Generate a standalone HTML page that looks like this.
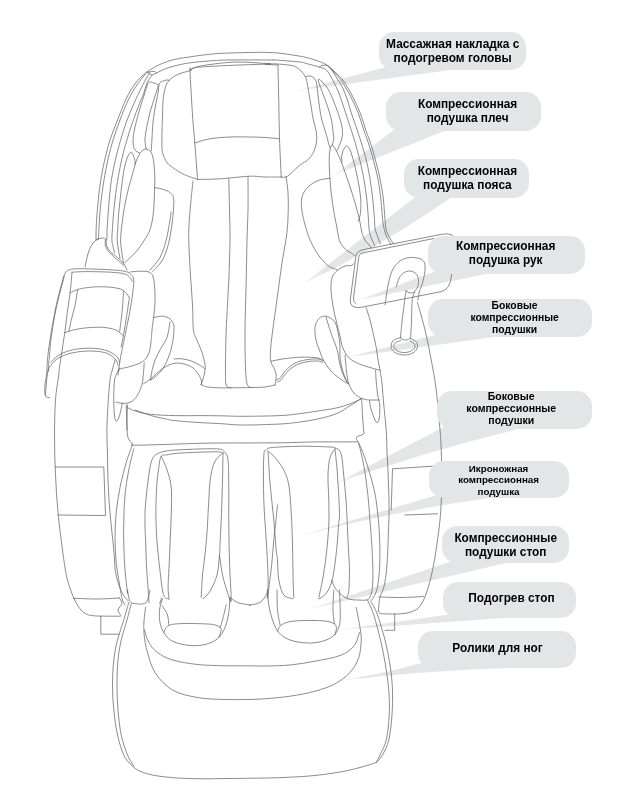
<!DOCTYPE html>
<html><head><meta charset="utf-8">
<style>
html,body{margin:0;padding:0;background:#fff;}
body{width:640px;height:804px;position:relative;overflow:hidden;font-family:"Liberation Sans",sans-serif;}
svg{position:absolute;left:0;top:0;}
.lb{position:absolute;background:#e3e6e7;border-radius:15px;}
.t{filter:grayscale(1);line-height:16px;position:absolute;font-weight:bold;color:#000;text-align:center;white-space:nowrap;transform:translateX(-50%);}

</style></head><body>
<!--TAILS-->
<svg id="tails" width="640" height="804" viewBox="0 0 640 804">
<defs>
<linearGradient id="g0" gradientUnits="userSpaceOnUse" x1="296.0" y1="91.0" x2="418.2" y2="68.7"><stop offset="0" stop-color="#e3e6e7" stop-opacity="0.45"/><stop offset="0.18" stop-color="#e3e6e7" stop-opacity="1"/></linearGradient>
<linearGradient id="g1" gradientUnits="userSpaceOnUse" x1="334.7" y1="174.7" x2="420.3" y2="129.7"><stop offset="0" stop-color="#e3e6e7" stop-opacity="0.45"/><stop offset="0.18" stop-color="#e3e6e7" stop-opacity="1"/></linearGradient>
<linearGradient id="g2" gradientUnits="userSpaceOnUse" x1="302.8" y1="284.0" x2="431.9" y2="198.2"><stop offset="0" stop-color="#e3e6e7" stop-opacity="0.45"/><stop offset="0.18" stop-color="#e3e6e7" stop-opacity="1"/></linearGradient>
<linearGradient id="g3" gradientUnits="userSpaceOnUse" x1="358.1" y1="300.3" x2="460.8" y2="272.9"><stop offset="0" stop-color="#e3e6e7" stop-opacity="0.45"/><stop offset="0.18" stop-color="#e3e6e7" stop-opacity="1"/></linearGradient>
<linearGradient id="g4" gradientUnits="userSpaceOnUse" x1="346.2" y1="357.5" x2="465.5" y2="335.9"><stop offset="0" stop-color="#e3e6e7" stop-opacity="0.45"/><stop offset="0.18" stop-color="#e3e6e7" stop-opacity="1"/></linearGradient>
<linearGradient id="g5" gradientUnits="userSpaceOnUse" x1="335.6" y1="483.4" x2="481.7" y2="427.9"><stop offset="0" stop-color="#e3e6e7" stop-opacity="0.45"/><stop offset="0.18" stop-color="#e3e6e7" stop-opacity="1"/></linearGradient>
<linearGradient id="g6" gradientUnits="userSpaceOnUse" x1="296.0" y1="537.0" x2="462.9" y2="496.3"><stop offset="0" stop-color="#e3e6e7" stop-opacity="0.45"/><stop offset="0.18" stop-color="#e3e6e7" stop-opacity="1"/></linearGradient>
<linearGradient id="g7" gradientUnits="userSpaceOnUse" x1="308.0" y1="609.4" x2="479.5" y2="561.9"><stop offset="0" stop-color="#e3e6e7" stop-opacity="0.45"/><stop offset="0.18" stop-color="#e3e6e7" stop-opacity="1"/></linearGradient>
<linearGradient id="g8" gradientUnits="userSpaceOnUse" x1="338.0" y1="630.0" x2="472.8" y2="616.6"><stop offset="0" stop-color="#e3e6e7" stop-opacity="0.45"/><stop offset="0.18" stop-color="#e3e6e7" stop-opacity="1"/></linearGradient>
<linearGradient id="g9" gradientUnits="userSpaceOnUse" x1="336.0" y1="681.0" x2="468.0" y2="665.4"><stop offset="0" stop-color="#e3e6e7" stop-opacity="0.45"/><stop offset="0.18" stop-color="#e3e6e7" stop-opacity="1"/></linearGradient>
</defs>
<path fill="url(#g0)" d="M296.0,91.0 Q340.2,79.3 384.5,67.6 L396.1,64.5 L452.0,64.8 L452.0,69.8 Q374.0,80.4 296.0,91.0 Z"/>
<path fill="url(#g1)" d="M334.7,174.7 Q365.1,151.7 395.6,128.8 L405.2,121.5 L445.0,125.7 L445.0,130.7 Q389.9,152.7 334.7,174.7 Z"/>
<path fill="url(#g2)" d="M302.8,284.0 Q358.4,241.2 413.9,198.3 L423.4,191.0 L450.0,193.2 L450.0,198.2 Q376.4,249.1 302.8,284.0 Z"/>
<path fill="url(#g3)" d="M358.1,300.3 Q395.4,286.2 432.6,272.2 L443.8,268.0 L489.0,268.5 L489.0,273.5 Q423.6,286.9 358.1,300.3 Z"/>
<path fill="url(#g4)" d="M346.2,357.5 Q390.6,346.2 435.0,335.0 L446.6,332.1 L496.0,331.8 L496.0,336.8 Q421.1,347.1 346.2,357.5 Z"/>
<path fill="url(#g5)" d="M335.6,483.4 Q389.5,455.3 443.4,427.2 L454.0,421.7 L520.0,423.5 L520.0,428.5 Q427.8,450.9 335.6,483.4 Z"/>
<path fill="url(#g6)" d="M296.0,537.0 Q367.4,515.7 438.8,494.4 L450.2,491.0 L487.0,493.2 L487.0,498.2 Q391.5,511.6 296.0,537.0 Z"/>
<path fill="url(#g7)" d="M308.0,609.4 Q380.0,585.2 452.0,561.0 L463.4,557.2 L507.0,557.8 L507.0,562.8 Q407.5,586.1 308.0,609.4 Z"/>
<path fill="url(#g8)" d="M338.0,630.0 Q391.8,622.5 445.6,615.0 L457.5,613.3 L500.0,613.3 L500.0,618.3 Q419.0,624.1 338.0,630.0 Z"/>
<path fill="url(#g9)" d="M336.0,681.0 Q378.5,675.0 421.0,663.0 L432.7,660.5 L515.0,662.8 L515.0,667.8 Q425.5,670.4 336.0,681.0 Z"/>
</svg>
<!--CHAIR-->
<svg id="chair" width="640" height="804" viewBox="0 0 640 804" fill="none" stroke="#666" stroke-width="0.75" stroke-linecap="round" stroke-linejoin="round">
<path d="M96.0,240.0 C96.0,237.9 96.0,233.3 96.2,227.5 C96.5,221.7 97.0,212.7 97.8,205.0 C98.5,197.3 99.4,189.0 100.6,181.2 C101.8,173.5 103.4,165.6 105.0,158.8 C106.6,151.9 107.9,146.5 110.0,140.0 C112.1,133.5 114.8,126.9 117.5,120.0 C120.2,113.1 123.3,104.8 126.2,98.8 C129.2,92.7 131.7,88.1 135.0,83.8 C138.3,79.4 142.1,75.7 146.2,72.5 C150.4,69.3 155.2,66.6 160.0,64.4 C164.8,62.2 170.0,60.6 175.0,59.4 C180.0,58.1 184.4,57.7 190.0,56.9 C195.6,56.0 202.5,55.0 208.8,54.4 C215.0,53.8 217.3,53.4 227.5,53.1 C237.7,52.8 257.9,52.0 270.0,52.5 C282.1,53.0 292.5,55.0 300.0,56.2 C307.5,57.5 310.7,58.6 315.0,60.0 C319.3,61.4 323.2,63.0 326.0,64.5 C328.8,66.0 330.0,67.2 332.0,69.0 C334.0,70.8 336.0,73.0 338.0,75.0 C340.0,77.0 341.3,77.7 343.8,81.2 C346.2,84.8 349.8,91.0 352.5,96.2 C355.2,101.5 357.7,106.7 360.0,112.5 C362.3,118.3 364.5,126.2 366.2,131.2 C368.0,136.3 369.1,138.8 370.5,143.0 C371.9,147.2 373.0,151.1 374.5,156.6 C376.0,162.1 378.1,169.7 379.5,176.2 C380.9,182.8 382.1,189.4 383.0,196.0 C383.9,202.6 384.2,210.1 384.7,215.6 C385.2,221.1 385.3,225.6 386.0,229.0 C386.7,232.4 387.5,233.5 388.8,236.0 C390.0,238.5 392.6,242.5 393.4,243.8"/>
<path d="M98.5,238.8 C98.6,236.9 98.6,233.1 99.0,227.5 C99.4,221.9 99.8,212.7 100.6,205.0 C101.4,197.3 102.5,189.0 103.8,181.2 C105.0,173.5 106.6,165.6 108.1,158.8 C109.7,151.9 111.1,146.5 113.1,140.0 C115.1,133.5 117.4,126.9 120.0,120.0 C122.6,113.1 125.9,104.6 128.8,98.8 C131.6,92.9 134.0,89.3 136.9,85.0 C139.8,80.7 144.7,75.1 146.2,73.1"/>
<path d="M96.0,240.0 C96.2,239.8 96.6,239.2 97.0,239.0 C97.4,238.8 98.2,238.8 98.5,238.8"/>
<path d="M106.9,240.0 C106.9,237.9 106.9,233.3 107.2,227.5 C107.6,221.7 108.1,212.7 108.8,205.0 C109.4,197.3 110.1,189.0 111.2,181.2 C112.4,173.5 114.1,165.6 115.6,158.8 C117.2,151.9 118.9,146.0 120.6,140.0 C122.4,134.0 124.1,128.5 126.2,122.5 C128.4,116.5 131.2,109.5 133.8,103.8 C136.2,98.0 139.0,92.7 141.2,88.1 C143.5,83.5 146.1,78.8 147.5,76.2 C148.9,73.7 149.4,73.3 149.8,72.8"/>
<path d="M114.5,252.5 C114.2,251.4 113.4,248.1 113.0,246.0 C112.6,243.9 112.0,243.1 111.9,240.0 C111.8,236.9 112.1,233.3 112.5,227.5 C112.9,221.7 113.5,212.7 114.4,205.0 C115.2,197.3 116.2,189.0 117.5,181.2 C118.8,173.5 120.3,165.6 121.9,158.8 C123.4,151.9 125.1,146.0 126.9,140.0 C128.6,134.0 130.4,128.5 132.5,122.5 C134.6,116.5 137.5,108.5 139.4,103.8 C141.2,99.0 142.3,97.0 143.5,93.8 C144.7,90.5 145.5,86.9 146.5,84.4 C147.5,81.8 148.6,80.0 149.5,78.5 C150.4,77.0 151.6,75.8 152.0,75.2"/>
<path d="M147.2,72.2 L154.8,71.2 L156.5,73.0 L152.0,75.2 L147.2,72.2"/>
<path d="M156.5,73.0 C158.1,72.2 162.8,69.8 166.2,68.5 C169.8,67.2 173.5,66.2 177.5,65.2 C181.5,64.3 184.8,63.5 190.0,62.8 C195.2,62.0 202.5,61.5 208.8,61.0 C215.0,60.5 217.3,60.2 227.5,60.0 C237.7,59.8 262.1,60.0 270.0,60.0 C277.9,60.0 270.0,59.7 275.0,60.0 C280.0,60.3 294.8,61.4 300.0,62.0 C305.2,62.6 303.3,62.8 306.0,63.5 C308.7,64.2 313.7,65.4 316.0,66.0 C318.3,66.6 319.3,67.0 320.0,67.2"/>
<path d="M319.5,67.0 C319.8,66.8 320.4,65.8 321.5,65.5 C322.6,65.2 324.8,65.0 326.0,65.2 C327.2,65.5 327.9,66.1 329.0,67.0 C330.1,67.9 331.9,69.9 332.5,70.5"/>
<path d="M320.0,67.2 C320.8,67.5 323.7,68.2 325.0,69.0 C326.3,69.8 327.0,70.7 328.0,72.0 C329.0,73.3 329.6,74.4 331.0,77.0 C332.4,79.6 334.8,83.8 336.5,87.5 C338.2,91.2 339.5,94.8 341.0,99.0 C342.5,103.2 343.4,106.2 345.5,112.5 C347.6,118.8 351.1,129.6 353.4,136.9 C355.6,144.2 357.4,150.0 359.0,156.6 C360.6,163.2 362.1,169.7 363.3,176.2 C364.5,182.8 365.6,189.4 366.4,196.0 C367.2,202.6 367.7,209.9 368.2,215.6 C368.7,221.3 368.7,226.4 369.2,230.0 C369.7,233.6 370.1,234.4 371.0,237.0 C371.9,239.6 374.1,244.2 374.7,245.6"/>
<path d="M329.0,67.0 C329.7,67.8 331.5,69.8 333.0,72.0 C334.5,74.2 336.4,77.4 338.0,80.0 C339.6,82.6 341.0,84.3 342.5,87.5 C344.0,90.7 345.5,94.8 347.0,99.0 C348.5,103.2 349.2,106.4 351.2,112.5 C353.2,118.6 356.6,128.2 359.0,135.5 C361.4,142.8 363.6,149.8 365.4,156.6 C367.2,163.4 368.4,169.7 369.6,176.2 C370.8,182.8 371.6,189.4 372.4,196.0 C373.2,202.6 373.8,210.3 374.2,215.6 C374.7,220.9 374.5,224.6 375.0,228.0 C375.5,231.4 376.6,233.6 377.5,236.2 C378.4,238.9 379.8,242.5 380.3,243.8"/>
<path d="M332.5,70.5 C333.2,71.3 335.4,73.7 337.0,75.5 C338.6,77.3 339.8,78.0 342.0,81.5 C344.2,85.0 347.8,91.1 350.5,96.2 C353.2,101.4 355.7,106.7 358.0,112.5 C360.3,118.3 362.5,126.2 364.2,131.2 C365.9,136.3 367.0,138.8 368.4,143.0 C369.8,147.2 370.9,151.1 372.4,156.6 C373.9,162.1 376.0,169.7 377.4,176.2 C378.8,182.8 379.7,189.4 380.5,196.0 C381.3,202.6 381.8,210.6 382.3,215.6 C382.8,220.6 382.9,222.8 383.5,226.0 C384.1,229.2 384.8,231.9 386.0,235.0 C387.2,238.1 390.2,242.9 391.0,244.5"/>
<path d="M139.8,153.2 C139.1,152.8 136.7,151.8 135.6,150.6 C134.6,149.5 133.9,148.0 133.5,146.2 C133.1,144.5 133.0,142.7 133.1,140.0 C133.3,137.3 133.4,134.6 134.4,130.0 C135.3,125.4 137.2,118.1 138.8,112.5 C140.3,106.9 142.2,101.1 143.8,96.2 C145.3,91.4 146.9,85.5 148.1,83.1 C149.4,80.8 149.9,82.1 151.2,82.2 C152.6,82.4 155.1,83.2 156.2,83.8 C157.4,84.3 158.3,83.5 158.1,85.6 C157.9,87.7 156.4,91.8 155.0,96.2 C153.6,100.7 151.5,106.9 150.0,112.5 C148.5,118.1 147.1,125.4 146.2,130.0 C145.4,134.6 145.0,136.8 145.0,140.0 C145.0,143.2 145.8,147.5 146.0,149.0"/>
<path d="M151.2,151.0 C151.4,149.2 151.6,145.0 151.9,140.0 C152.2,135.0 152.5,127.1 153.1,121.2 C153.8,115.4 154.8,109.8 155.6,105.0 C156.5,100.2 157.5,96.0 158.1,92.5 C158.8,89.0 158.6,85.6 159.4,83.8 C160.1,81.9 161.2,81.9 162.5,81.2 C163.8,80.6 165.8,80.2 166.9,80.0 C168.0,79.8 168.6,80.2 169.0,80.2"/>
<path d="M197.5,179.5 C195.0,178.5 187.1,176.1 182.5,173.8 C177.9,171.4 172.7,167.6 170.0,165.5 C167.3,163.4 167.5,163.4 166.2,161.2 C165.0,159.1 163.2,156.0 162.5,152.5 C161.8,149.0 161.9,146.2 161.9,140.0 C161.9,133.8 162.3,121.7 162.5,115.0 C162.7,108.3 162.7,104.4 163.1,100.0 C163.5,95.6 164.3,91.7 165.0,88.8 C165.7,85.8 166.2,84.4 167.5,82.5 C168.8,80.6 170.4,79.0 172.5,77.5 C174.6,76.0 177.1,74.6 180.0,73.5 C182.9,72.4 187.7,71.5 190.0,70.6 C192.3,69.7 191.7,69.0 193.8,68.1 C195.8,67.3 196.9,66.6 202.5,65.6 C208.1,64.7 220.2,63.1 227.5,62.5 C234.8,61.9 239.2,62.0 246.2,62.2 C253.3,62.5 265.2,63.5 270.0,63.8 C274.8,64.0 271.7,63.5 275.0,63.8 C278.3,64.0 286.5,64.7 290.0,65.2 C293.5,65.8 294.2,66.0 296.0,67.0 C297.8,68.0 299.4,69.3 301.0,71.0 C302.6,72.7 304.4,74.7 305.5,77.0 C306.6,79.3 306.8,81.7 307.5,85.0 C308.2,88.3 308.8,93.0 309.5,97.0 C310.2,101.0 310.9,105.2 311.5,109.0 C312.1,112.8 312.6,116.3 313.4,120.0 C314.2,123.7 315.7,127.8 316.2,131.2 C316.7,134.8 317.0,137.7 316.6,141.0 C316.2,144.3 315.4,147.9 314.0,151.0 C312.6,154.1 310.7,157.1 308.4,159.4 C306.1,161.7 303.5,162.2 300.0,165.0 C296.5,167.8 290.6,174.2 287.5,176.2 C284.4,178.2 282.3,176.9 281.2,177.0"/>
<path d="M197.5,179.5 C197.1,173.8 195.8,155.8 195.0,145.0 C194.2,134.2 193.3,127.3 192.5,115.0 C191.7,102.7 190.3,78.6 190.0,71.2 C189.7,63.9 190.5,70.7 190.6,70.6"/>
<path d="M190.6,70.6 C191.1,70.1 190.7,68.4 193.8,67.8 C196.8,67.1 201.0,67.0 208.8,66.5 C216.5,66.0 229.8,65.4 240.0,65.0 C250.2,64.6 265.8,64.1 270.0,64.0 C274.2,63.9 263.7,64.1 265.0,64.2 C266.3,64.4 275.8,64.9 278.0,65.0"/>
<path d="M278.0,65.0 C278.1,71.2 278.5,90.2 278.8,102.5 C279.0,114.8 279.1,126.3 279.5,138.8 C279.9,151.2 281.0,170.6 281.2,177.0"/>
<path d="M194.5,143.0 C197.1,142.3 204.1,139.8 210.0,138.8 C215.9,137.8 223.3,137.3 230.0,137.0 C236.7,136.7 244.2,136.9 250.0,137.0 C255.8,137.1 260.1,137.2 265.0,137.5 C269.9,137.8 277.1,138.5 279.5,138.8"/>
<path d="M197.5,179.5 C201.2,179.4 211.2,179.3 220.0,178.8 C228.8,178.2 242.5,176.5 250.0,176.2 C257.5,176.0 259.8,176.9 265.0,177.0 C270.2,177.1 278.5,177.0 281.2,177.0"/>
<path d="M135.2,164.4 C135.2,163.6 135.1,161.6 134.8,160.0 C134.4,158.4 133.8,156.3 133.1,155.0 C132.4,153.7 131.7,151.6 130.6,152.2 C129.6,152.9 128.0,155.6 126.9,158.8 C125.7,161.9 124.7,166.0 123.8,171.2 C122.8,176.5 122.0,183.5 121.2,190.0 C120.5,196.5 119.6,203.8 119.0,210.0 C118.4,216.2 118.0,222.5 117.8,227.5 C117.5,232.5 117.1,236.2 117.2,240.0 C117.4,243.8 118.0,246.9 118.5,250.0 C119.0,253.1 119.8,257.1 120.0,258.5"/>
<path d="M123.5,263.0 C123.2,260.8 122.0,253.8 121.5,250.0 C121.0,246.2 120.6,244.2 120.6,240.0 C120.7,235.8 121.2,230.4 121.9,225.0 C122.5,219.6 123.3,213.3 124.4,207.5 C125.4,201.7 126.9,195.2 128.1,190.0 C129.4,184.8 130.5,181.0 131.9,176.2 C133.2,171.5 134.8,165.2 136.2,161.2 C137.7,157.3 139.1,154.5 140.6,152.5 C142.2,150.5 143.9,149.0 145.6,149.0 C147.4,149.0 149.9,150.2 151.2,152.5 C152.6,154.8 153.2,158.3 153.8,162.5 C154.3,166.7 154.6,171.9 154.8,177.5 C154.9,183.1 154.6,190.0 154.4,196.2 C154.1,202.5 153.8,209.8 153.1,215.0 C152.5,220.2 151.6,224.2 150.6,227.5 C149.7,230.8 149.7,231.2 147.5,235.0 C145.3,238.8 141.2,245.4 137.5,250.0 C133.8,254.6 127.1,260.4 125.0,262.5"/>
<path d="M154.8,187.5 C156.5,187.9 162.2,189.0 165.0,190.0 C167.8,191.0 169.8,192.1 171.2,193.8 C172.7,195.4 173.5,195.6 173.8,200.0 C174.0,204.4 173.3,212.9 172.5,220.0 C171.7,227.1 170.4,235.8 168.8,242.5 C167.1,249.2 165.2,255.2 162.5,260.0 C159.8,264.8 154.2,269.4 152.5,271.2"/>
<path d="M171.0,212.0 C170.8,213.3 170.8,215.3 170.0,220.0 C169.2,224.7 167.9,233.8 166.2,240.0 C164.6,246.2 162.7,252.5 160.0,257.5 C157.3,262.5 151.7,267.9 150.0,270.0"/>
<path d="M306.0,76.5 C306.7,76.4 308.8,75.8 310.0,76.0 C311.2,76.2 312.5,76.7 313.5,77.5 C314.5,78.3 315.4,79.6 316.0,81.0 C316.6,82.4 316.6,83.3 317.0,86.0 C317.4,88.7 317.7,93.2 318.2,97.0 C318.7,100.8 319.2,105.2 319.8,109.0 C320.4,112.8 320.9,116.3 321.8,120.0 C322.7,123.7 324.1,127.3 325.3,131.2 C326.5,135.2 328.0,141.1 328.8,143.9 C329.6,146.7 330.0,147.4 330.2,148.1"/>
<path d="M332.3,145.3 C332.5,144.1 333.6,140.7 333.8,138.3 C333.9,135.9 333.4,134.1 333.0,131.0 C332.6,128.0 332.2,123.3 331.5,120.0 C330.8,116.7 329.9,114.0 329.0,111.0 C328.1,108.0 327.0,104.8 326.0,102.0 C325.0,99.2 323.9,96.4 323.0,94.0 C322.1,91.6 321.3,89.3 320.6,87.5 C319.9,85.7 319.4,84.3 319.0,83.0 C318.6,81.7 318.3,80.2 318.4,79.6 C318.5,79.0 318.8,78.7 319.6,79.3 C320.4,79.9 321.7,81.5 323.0,83.0 C324.3,84.5 326.2,86.0 327.5,88.0 C328.8,90.0 329.9,92.7 331.0,95.0 C332.1,97.3 332.9,99.3 334.0,102.0 C335.1,104.7 336.2,108.0 337.3,111.0 C338.4,114.0 339.5,117.1 340.3,120.0 C341.1,122.9 341.9,125.6 342.2,128.4 C342.5,131.2 342.7,134.1 342.2,136.9 C341.7,139.7 340.3,143.0 339.4,145.3 C338.5,147.7 337.2,150.1 336.8,151.0"/>
<path d="M355.0,255.8 C354.4,255.3 352.8,254.1 351.2,253.0 C349.7,251.9 347.5,251.2 345.6,249.4 C343.7,247.6 341.2,244.3 340.0,241.9 C338.8,239.5 338.7,237.5 338.2,235.0 C337.7,232.5 337.5,230.9 336.8,227.0 C336.1,223.1 334.7,217.1 333.8,211.4 C332.8,205.7 331.9,198.9 331.2,193.0 C330.5,187.1 330.1,181.4 329.8,176.2 C329.5,171.1 329.2,166.4 329.2,162.2 C329.2,158.0 329.3,153.9 329.8,151.0 C330.3,148.1 331.0,145.1 332.0,145.0 C333.0,144.9 334.4,147.6 335.9,150.2 C337.4,152.8 339.1,156.5 340.8,160.8 C342.6,165.1 344.5,170.9 346.4,176.2 C348.3,181.6 350.2,187.4 352.0,193.0 C353.8,198.6 355.7,205.3 357.0,210.0 C358.3,214.7 359.0,217.5 359.8,221.2 C360.6,225.0 361.0,229.4 361.9,232.5 C362.8,235.6 364.0,238.1 365.0,240.0 C366.0,241.9 367.0,242.3 368.1,243.8 C369.2,245.2 371.3,247.6 371.9,248.4"/>
<path d="M342.2,162.2 C342.1,161.5 341.4,159.9 341.5,158.0 C341.6,156.1 342.1,153.0 342.9,151.0 C343.7,149.0 345.2,146.2 346.4,146.0 C347.6,145.8 348.8,147.5 349.9,149.5 C350.9,151.5 351.6,154.2 352.7,158.0 C353.8,161.8 355.2,167.3 356.2,172.0 C357.3,176.7 358.2,181.3 359.0,186.0 C359.8,190.7 360.5,195.5 360.8,200.0 C361.0,204.5 360.9,209.3 360.5,212.8 C360.1,216.3 358.8,219.8 358.4,221.2"/>
<path d="M329.9,178.3 C328.0,178.6 322.3,179.0 318.8,180.3 C315.2,181.7 311.3,183.9 308.6,186.4 C305.9,188.9 303.7,192.1 302.5,195.5 C301.3,198.9 301.2,202.1 301.5,206.7 C301.8,211.3 303.0,217.2 304.5,223.0 C306.0,228.8 308.2,235.8 310.6,241.2 C313.0,246.7 315.9,251.4 318.8,255.5 C321.6,259.6 324.9,263.2 327.9,265.6 C330.9,268.0 335.5,269.0 337.0,269.7"/>
<path d="M193.0,181.0 C192.7,184.2 191.7,192.7 191.0,200.0 C190.3,207.3 189.4,218.3 189.0,225.0 C188.6,231.7 188.6,232.9 188.8,240.0 C188.9,247.1 189.4,256.7 190.0,267.5 C190.6,278.3 191.9,294.6 192.5,305.0 C193.1,315.4 192.7,324.3 193.4,330.0 C194.1,335.7 195.3,336.0 196.6,339.4 C197.9,342.8 199.9,346.7 201.2,350.3 C202.6,353.9 203.7,358.1 204.4,361.2 C205.1,364.4 205.3,366.4 205.2,369.0 C205.1,371.6 204.3,374.3 203.6,376.9 C202.9,379.5 201.6,383.4 201.2,384.7"/>
<path d="M228.8,178.8 C228.9,184.0 229.3,199.8 229.5,210.0 C229.7,220.2 230.1,228.3 230.0,240.0 C229.9,251.7 229.4,265.0 228.8,280.0 C228.1,295.0 226.8,315.4 226.2,330.0 C225.7,344.6 225.5,358.3 225.5,367.5 C225.5,376.7 225.3,381.6 226.2,385.0 C227.2,388.4 230.4,387.3 231.2,387.8"/>
<path d="M248.0,177.0 C248.0,182.5 248.2,199.5 248.0,210.0 C247.8,220.5 247.3,228.3 247.0,240.0 C246.7,251.7 246.6,265.0 246.2,280.0 C245.9,295.0 245.1,315.4 245.0,330.0 C244.9,344.6 245.1,358.3 245.5,367.5 C245.9,376.7 246.3,381.7 247.5,385.0 C248.7,388.3 251.7,387.1 252.5,387.5"/>
<path d="M286.0,176.5 C286.3,178.8 287.4,185.2 287.8,190.0 C288.2,194.8 288.3,199.7 288.3,205.0 C288.3,210.3 288.1,216.5 287.8,222.0 C287.5,227.5 287.2,231.4 286.2,238.0 C285.3,244.6 283.9,250.4 282.2,261.6 C280.5,272.8 278.1,291.5 276.2,305.0 C274.4,318.5 272.2,333.3 271.2,342.5 C270.3,351.7 270.1,355.8 270.5,360.0 C270.9,364.2 272.8,365.0 273.8,367.5 C274.7,370.0 276.0,372.1 276.2,375.0 C276.5,377.9 275.2,383.3 275.0,385.0"/>
<path d="M201.2,384.7 C202.3,385.1 204.4,386.5 207.5,387.0 C210.6,387.5 216.0,387.7 220.0,387.8 C224.0,387.9 225.8,387.9 231.2,387.8 C236.7,387.8 246.9,387.6 252.5,387.5 C258.1,387.4 261.2,387.4 265.0,387.0 C268.8,386.6 273.3,385.3 275.0,385.0"/>
<path d="M173.9,358.9 C175.3,358.9 179.5,358.5 182.5,358.9 C185.5,359.3 189.0,360.2 191.9,361.2 C194.8,362.3 197.5,363.9 199.7,365.2 C201.9,366.5 204.3,368.4 205.2,369.0"/>
<path d="M143.4,383.9 C144.7,383.0 148.7,380.5 151.2,378.4 C153.8,376.3 156.4,373.5 159.0,371.4 C161.6,369.3 164.0,367.3 166.9,365.9 C169.8,364.5 173.1,363.4 176.2,363.1 C179.4,362.9 182.7,363.5 185.6,364.4 C188.5,365.3 191.3,366.7 193.4,368.3 C195.5,369.9 196.8,371.8 198.1,373.8 C199.4,375.7 200.7,378.2 201.2,380.0 C201.8,381.8 201.2,383.9 201.2,384.7"/>
<path d="M276.2,380.0 C276.9,379.7 278.4,379.6 280.0,378.0 C281.6,376.4 283.1,373.1 285.6,370.6 C288.1,368.1 291.6,364.9 295.0,363.1 C298.4,361.3 302.5,360.4 306.2,359.8 C310.0,359.1 314.7,358.8 317.5,359.0 C320.3,359.2 322.1,360.7 323.0,361.0"/>
<path d="M277.5,382.0 C278.1,381.7 279.5,381.6 281.0,380.0 C282.5,378.4 284.1,375.1 286.6,372.6 C289.1,370.1 292.6,366.9 296.0,365.1 C299.4,363.3 303.4,362.5 307.0,361.8 C310.6,361.1 314.9,360.9 317.5,361.0 C320.1,361.1 321.7,362.2 322.5,362.5"/>
<path d="M271.2,361.2 C272.7,360.9 276.7,360.0 280.0,359.4 C283.3,358.8 287.2,358.3 291.2,357.9 C295.3,357.5 300.0,357.1 304.4,357.1 C308.8,357.1 314.4,357.4 317.5,357.9 C320.6,358.4 322.2,359.9 323.1,360.3"/>
<path d="M127.0,407.3 C128.4,408.0 131.6,410.1 135.6,411.2 C139.6,412.4 144.7,413.7 151.2,414.4 C157.8,415.1 166.9,415.4 174.7,415.6 C182.5,415.8 190.5,415.6 198.1,415.6 C205.7,415.6 212.6,415.7 220.0,415.8 C227.4,415.9 232.5,416.3 242.5,416.3 C252.5,416.3 270.6,416.0 280.0,415.6 C289.4,415.2 292.5,414.5 298.8,413.8 C305.0,413.0 311.2,412.0 317.5,411.0 C323.8,410.0 330.6,409.3 336.2,408.0 C341.9,406.7 347.0,405.0 351.2,403.4 C355.5,401.8 359.9,399.2 361.6,398.4"/>
<path d="M135.0,410.0 C137.7,410.9 146.2,414.1 151.2,415.6 C156.2,417.1 161.1,417.9 165.0,418.8 C168.9,419.6 169.2,420.0 174.7,420.6 C180.2,421.2 190.5,422.0 198.1,422.5 C205.7,423.0 212.6,423.2 220.0,423.6 C227.4,424.0 232.5,424.9 242.5,425.0 C252.5,425.1 270.6,424.5 280.0,424.0 C289.4,423.5 292.5,423.0 298.8,422.2 C305.0,421.4 311.2,420.4 317.5,419.0 C323.8,417.6 330.9,415.9 336.2,413.8 C341.6,411.6 345.2,408.8 349.4,406.2 C353.6,403.7 359.6,399.7 361.6,398.4"/>
<path d="M85.0,267.0 C85.5,264.8 86.8,257.6 88.0,253.8 C89.2,249.9 90.7,246.2 92.5,243.8 C94.3,241.2 96.6,239.6 98.8,238.8 C100.9,237.9 104.2,237.7 105.5,238.8 C106.8,239.8 105.8,242.9 106.5,245.0 C107.2,247.1 108.2,249.2 110.0,251.2 C111.8,253.3 115.2,255.4 117.5,257.5 C119.8,259.6 122.2,261.7 123.8,263.8 C125.3,265.8 126.5,269.0 127.0,270.0"/>
<path d="M105.5,239.5 C105.5,240.6 104.8,244.0 105.5,246.2 C106.2,248.5 108.2,250.9 110.0,253.0 C111.8,255.1 114.0,256.7 116.2,258.8 C118.5,260.8 122.5,264.4 123.8,265.5"/>
<path d="M49.5,397.5 C48.8,397.2 46.3,397.9 45.5,396.0 C44.7,394.1 44.6,389.5 44.8,386.0 C45.0,382.5 46.1,379.4 46.6,375.0 C47.0,370.6 47.0,364.6 47.5,359.4 C48.0,354.2 48.5,349.5 49.4,343.8 C50.2,338.0 51.3,331.5 52.5,325.0 C53.7,318.5 55.0,311.2 56.4,304.7 C57.8,298.2 59.7,291.1 61.1,285.9 C62.5,280.7 63.7,276.1 65.0,273.4 C66.3,270.8 67.1,270.8 68.9,270.0 C70.7,269.2 71.6,268.9 75.9,268.8 C80.2,268.6 88.4,268.9 94.7,269.1 C100.9,269.3 108.2,269.6 113.4,270.0 C118.6,270.4 122.9,270.7 125.9,271.6 C128.9,272.4 130.1,273.5 131.4,275.0 C132.7,276.5 133.6,276.8 133.8,280.5 C133.9,284.1 133.0,291.0 132.2,296.9 C131.4,302.7 130.2,309.4 129.1,315.6 C127.9,321.9 126.3,328.6 125.2,334.4 C124.0,340.1 122.9,345.3 122.0,350.0 C121.1,354.7 120.3,358.3 119.7,362.5 C119.0,366.7 118.4,372.9 118.1,375.0"/>
<path d="M72.0,272.2 C74.5,272.1 80.5,271.6 86.9,271.6 C93.3,271.6 104.1,271.8 110.3,272.2 C116.6,272.6 121.1,272.9 124.4,273.8 C127.6,274.6 128.5,276.1 129.8,277.3 C131.1,278.6 131.8,280.6 132.2,281.2"/>
<path d="M64.2,275.8 C64.1,276.4 64.3,276.2 63.4,279.7 C62.5,283.2 60.3,290.6 58.8,296.9 C57.2,303.1 55.6,310.4 54.4,317.2 C53.1,324.0 52.1,331.0 51.2,337.5 C50.4,344.0 49.9,350.5 49.4,356.2 C48.9,362.0 48.3,369.3 48.1,371.9"/>
<path d="M72.0,272.2 C71.8,275.0 71.2,282.3 70.5,289.1 C69.7,295.8 68.3,305.2 67.3,312.5 C66.4,319.8 65.6,326.3 64.7,332.8 C63.8,339.3 62.7,345.8 61.9,351.6 C61.0,357.3 60.1,363.3 59.5,367.2 C59.0,371.1 59.4,369.5 58.8,375.0 C58.1,380.5 56.2,389.6 55.5,400.0 C54.8,410.4 54.5,425.0 54.5,437.5 C54.5,450.0 54.9,462.5 55.5,475.0 C56.1,487.5 56.8,500.0 58.0,512.5 C59.2,525.0 61.1,539.5 62.5,550.0 C63.9,560.5 65.0,568.7 66.4,575.6 C67.8,582.5 69.7,587.1 71.1,591.2 C72.5,595.4 73.6,597.7 75.0,600.6 C76.4,603.5 77.9,606.2 79.7,608.4 C81.5,610.6 83.3,612.6 85.9,613.9 C88.5,615.1 89.6,615.5 95.3,615.9 C101.0,616.3 116.1,616.2 120.3,616.2"/>
<path d="M70.0,293.0 C71.5,292.3 74.9,290.1 79.1,289.1 C83.2,288.0 89.5,287.2 94.7,286.9 C99.9,286.6 105.9,286.8 110.3,287.2 C114.7,287.6 118.5,288.3 121.2,289.4 C124.0,290.5 125.4,292.4 126.7,293.8 C128.1,295.1 128.9,297.0 129.4,297.7"/>
<path d="M77.5,290.3 C77.1,292.7 76.2,299.7 75.2,304.7 C74.1,309.7 72.3,315.9 71.2,320.3 C70.2,324.7 69.3,329.4 68.9,331.2"/>
<path d="M123.6,291.4 C123.3,294.9 122.7,305.9 122.0,312.5 C121.4,319.1 120.1,328.1 119.7,331.2"/>
<path d="M129.4,297.7 C128.9,300.7 127.7,309.5 126.7,315.6 C125.8,321.7 124.5,329.2 123.6,334.4 C122.7,339.6 121.6,344.8 121.2,346.9"/>
<path d="M64.7,332.8 C66.3,332.3 70.7,330.5 74.4,329.7 C78.1,328.9 82.2,328.2 86.9,327.8 C91.6,327.4 97.8,327.0 102.5,327.3 C107.2,327.7 111.6,328.4 115.0,329.7 C118.4,331.0 121.5,334.2 122.8,335.2"/>
<path d="M50.9,362.5 C52.0,361.5 54.6,358.1 57.2,356.2 C59.8,354.4 62.9,352.8 66.6,351.6 C70.2,350.3 74.4,349.3 79.1,348.8 C83.8,348.2 90.0,348.1 94.7,348.4 C99.4,348.8 103.5,349.5 107.2,350.8 C110.8,352.1 114.5,354.3 116.6,356.2 C118.6,358.2 119.2,361.5 119.7,362.5"/>
<path d="M45.5,395.0 C45.9,391.1 46.5,377.3 47.8,371.9 C49.1,366.5 51.2,365.0 53.3,362.5 C55.4,360.0 57.3,358.6 60.3,357.0 C63.3,355.5 67.3,354.1 71.2,353.1 C75.2,352.2 79.6,351.6 83.8,351.2 C87.9,350.9 92.3,350.9 96.2,351.2 C100.2,351.6 104.1,352.2 107.2,353.4 C110.3,354.7 113.2,356.6 115.0,358.6 C116.8,360.6 117.6,364.5 118.1,365.6"/>
<path d="M130.0,272.0 C131.7,271.9 136.7,271.2 140.0,271.2 C143.3,271.3 147.7,271.0 150.0,272.5 C152.3,274.0 152.9,275.0 153.8,280.0 C154.6,285.0 155.3,294.2 155.0,302.5 C154.7,310.8 152.6,323.9 152.0,330.0 C151.4,336.1 151.6,336.0 151.2,339.4 C150.9,342.8 150.6,347.1 149.7,350.3 C148.8,353.6 147.6,356.7 145.8,358.9 C144.0,361.1 141.5,362.3 138.8,363.6 C136.0,364.9 132.5,365.8 129.4,366.7 C126.3,367.6 121.8,368.3 120.0,369.0 C118.2,369.7 118.8,370.7 118.5,371.0"/>
<path d="M153.8,317.5 C155.2,317.3 159.8,316.0 162.5,316.2 C165.2,316.5 168.1,317.3 170.0,318.8 C171.9,320.2 173.1,323.1 173.8,325.0 C174.4,326.9 174.0,327.6 173.9,330.0 C173.8,332.4 173.6,336.0 173.1,339.4 C172.6,342.8 171.8,346.7 170.8,350.3 C169.8,353.9 168.5,357.9 166.9,361.2 C165.3,364.6 163.4,368.0 161.4,370.6 C159.4,373.2 157.0,375.3 155.2,376.9 C153.4,378.5 151.3,379.5 150.5,380.0"/>
<path d="M170.0,322.0 C169.5,324.6 168.5,333.3 166.9,337.8 C165.3,342.3 162.6,345.1 160.6,348.8 C158.6,352.4 156.6,356.1 155.2,359.7 C153.8,363.3 152.8,367.2 152.0,370.6 C151.2,374.0 150.8,378.4 150.5,380.0"/>
<path d="M144.2,362.8 C144.1,364.6 143.8,370.1 143.4,373.8 C143.0,377.4 142.9,381.1 141.9,384.7 C140.9,388.3 139.0,392.7 137.2,395.6 C135.4,398.5 133.2,400.6 130.9,401.9 C128.6,403.2 125.6,403.4 123.1,403.4 C120.6,403.4 117.2,402.2 116.0,402.0"/>
<path d="M126.2,405.0 L127.0,430.0"/>
<path d="M115.0,360.0 C114.5,361.7 113.1,366.7 112.3,370.0 C111.5,373.3 110.7,374.2 110.0,380.0 C109.3,385.8 108.5,396.7 108.0,405.0 C107.5,413.3 107.0,421.7 106.9,430.0 C106.8,438.3 107.3,446.7 107.5,455.0 C107.7,463.3 107.6,470.4 108.0,480.0 C108.4,489.6 109.0,500.8 110.0,512.5 C111.0,524.2 112.8,540.0 113.8,550.0 C114.7,560.0 114.6,566.4 115.6,572.5 C116.6,578.6 118.2,582.9 119.5,586.6 C120.8,590.4 122.0,592.7 123.4,595.0 C124.8,597.3 127.2,599.7 128.0,600.6"/>
<path d="M55.5,467.0 L103.8,467.0 L105.5,515.5 L58.0,515.0"/>
<path d="M113.8,402.5 C113.9,404.6 114.0,411.9 114.4,415.0 C114.8,418.1 115.4,421.0 116.2,421.2 C117.1,421.5 118.5,419.0 119.4,416.2 C120.3,413.5 121.4,407.2 121.9,405.0 C122.4,402.8 122.2,403.3 122.2,403.0"/>
<path d="M119.5,368.0 C119.0,369.0 117.3,372.0 116.5,374.0 C115.7,376.0 115.1,376.9 114.6,380.0 C114.1,383.1 113.9,388.8 113.8,392.5 C113.6,396.2 113.8,400.8 113.8,402.5"/>
<path d="M127.5,405.0 C127.4,408.3 126.9,419.6 127.0,425.0 C127.1,430.4 127.1,434.4 128.0,437.5 C128.9,440.6 131.8,442.7 132.5,443.8"/>
<path d="M132.5,444.5 C132.8,444.6 128.2,445.3 134.4,445.2 C140.7,445.2 157.4,444.7 170.0,444.3 C182.6,443.9 191.7,443.4 210.0,443.1 C228.3,442.9 262.1,443.0 280.0,442.8 C297.9,442.6 304.7,442.0 317.5,441.9 C330.3,441.8 350.3,441.9 356.9,441.9"/>
<path d="M385.0,304.7 C385.5,301.7 386.7,292.4 387.8,286.9 C388.9,281.4 389.9,276.0 391.6,271.9 C393.3,267.8 395.5,264.9 398.1,262.5 C400.8,260.1 404.1,258.5 407.5,257.8 C410.9,257.1 415.9,257.6 418.8,258.4 C421.6,259.2 423.4,260.2 424.4,262.5 C425.4,264.8 425.1,268.5 424.8,271.9 C424.4,275.3 423.3,280.0 422.5,283.1 C421.7,286.2 420.5,287.8 419.7,290.6 C418.9,293.4 418.1,298.4 417.8,300.0"/>
<path d="M396.2,286.9 C396.7,285.5 397.8,280.8 399.0,278.4 C400.2,276.0 401.9,274.0 403.8,272.8 C405.6,271.6 408.3,270.8 410.3,271.0 C412.3,271.2 414.6,272.4 416.0,273.8 C417.4,275.1 418.1,277.2 418.4,279.4 C418.7,281.6 418.4,285.0 417.8,286.9 C417.2,288.8 415.5,290.0 415.0,290.6"/>
<path d="M406.3,290.5 C406.1,291.6 405.4,294.2 405.0,297.0 C404.6,299.8 404.3,303.2 403.8,307.5 C403.2,311.8 402.4,317.7 401.9,322.5 C401.4,327.3 400.8,334.0 400.6,336.2"/>
<path d="M414.5,292.0 C414.2,293.0 413.0,295.8 412.6,298.0 C412.2,300.2 412.1,300.9 411.9,305.0 C411.7,309.1 411.7,317.1 411.5,322.5 C411.3,327.9 410.8,335.0 410.6,337.5"/>
<path d="M405.8,290.8 C406.3,291.1 408.0,292.2 409.0,292.6 C410.0,293.0 411.0,293.2 412.0,293.0 C413.0,292.8 414.5,291.8 415.0,291.5"/>
<path d="M400.6,336.2 C400.7,336.7 400.3,338.1 401.2,338.8 C402.2,339.4 404.7,340.1 406.2,340.0 C407.8,339.9 409.9,338.4 410.6,338.1"/>
<path d="M400.6,337.5 C400.0,337.7 398.2,338.1 396.9,338.8 C395.5,339.4 393.4,340.1 392.5,341.2 C391.6,342.4 391.4,344.3 391.2,345.6 C391.1,347.0 391.0,348.1 391.9,349.4 C392.7,350.6 394.3,352.2 396.2,353.1 C398.2,354.1 401.2,354.9 403.8,355.0 C406.2,355.1 409.2,354.6 411.2,353.8 C413.3,352.9 415.2,351.5 416.2,350.0 C417.3,348.5 417.7,346.6 417.5,345.0 C417.3,343.4 416.1,341.7 415.0,340.6 C413.9,339.6 411.4,339.1 410.6,338.8"/>
<path d="M400.6,340.6 C399.8,340.9 396.8,341.7 395.6,342.5 C394.5,343.3 394.0,344.8 393.8,345.6 C393.5,346.5 393.5,346.7 394.0,347.5 C394.5,348.3 395.5,349.8 396.9,350.6 C398.3,351.5 400.5,352.3 402.5,352.5 C404.5,352.7 406.9,352.5 408.8,351.9 C410.6,351.2 412.7,349.9 413.8,348.8 C414.8,347.6 415.3,346.1 415.0,345.0 C414.7,343.9 412.7,342.5 411.9,341.9 C411.1,341.2 410.5,341.1 410.2,341.0"/>
<path d="M417.5,302.5 C418.8,307.1 422.7,320.4 425.0,330.0 C427.3,339.6 429.4,350.0 431.2,360.0 C433.1,370.0 434.8,378.3 436.2,390.0 C437.7,401.7 439.2,420.8 440.0,430.0 C440.8,439.2 440.7,438.3 441.0,445.0 C441.3,451.7 441.6,460.8 441.6,470.0 C441.7,479.2 441.6,491.7 441.3,500.0 C441.0,508.3 440.6,513.3 440.0,520.0 C439.4,526.7 438.4,533.3 437.5,540.0 C436.6,546.7 435.6,553.7 434.5,560.0 C433.4,566.3 432.2,572.3 430.8,578.0 C429.4,583.7 427.5,589.8 426.0,594.0 C424.5,598.2 423.5,600.4 421.9,603.0 C420.3,605.6 419.1,608.0 416.2,609.7 C413.4,611.4 409.1,612.7 405.0,613.4 C400.9,614.1 396.0,614.0 391.9,614.0 C387.8,614.0 382.9,614.0 380.6,613.4 C378.4,612.8 378.8,611.1 378.4,610.6"/>
<path d="M366.2,308.0 C366.9,310.0 368.9,315.9 370.0,320.0 C371.1,324.1 372.0,327.9 373.0,332.5 C374.0,337.1 375.4,342.9 376.2,347.5 C377.1,352.1 377.4,356.2 378.0,360.0 C378.6,363.8 379.4,366.2 380.0,370.0 C380.6,373.8 381.3,376.7 381.9,382.5 C382.5,388.3 383.0,397.1 383.8,405.0 C384.5,412.9 385.7,422.3 386.2,430.0 C386.8,437.7 386.7,444.0 387.0,451.0 C387.3,458.0 387.7,464.9 388.0,472.0 C388.3,479.1 388.6,486.2 388.8,493.3 C389.0,500.4 389.1,508.1 389.0,514.4 C388.9,520.7 388.6,524.7 388.4,531.0 C388.2,537.3 388.1,545.2 387.7,552.2 C387.3,559.2 387.0,567.2 386.2,573.3 C385.5,579.4 384.5,584.8 383.4,588.8 C382.3,592.7 380.7,593.6 379.9,597.2 C379.1,600.8 378.6,608.4 378.4,610.6"/>
<path d="M375.6,370.0 C375.7,371.9 375.9,377.3 376.2,381.2 C376.6,385.2 377.1,390.6 377.5,393.8 C377.9,396.9 378.5,399.0 378.8,400.0"/>
<path d="M354.0,263.4 C353.5,263.8 352.7,265.2 351.2,265.6 C349.8,266.0 347.6,265.1 345.2,266.0 C342.8,266.9 339.2,268.7 337.0,270.7 C334.8,272.7 333.0,274.6 332.0,277.8 C331.0,281.0 330.8,285.3 331.0,290.0 C331.2,294.7 332.2,301.2 333.0,306.2 C333.8,311.2 334.8,315.0 336.0,320.0 C337.2,325.0 339.0,332.1 340.0,336.2 C341.0,340.4 341.1,342.3 341.9,345.0 C342.7,347.7 343.6,350.2 345.0,352.5 C346.4,354.8 347.7,356.9 350.0,358.8 C352.3,360.6 355.4,362.3 358.8,363.8 C362.1,365.2 366.5,366.4 370.0,367.5 C373.5,368.6 378.3,369.8 380.0,370.2"/>
<path d="M348.4,383.8 C347.3,383.1 344.5,381.9 341.9,380.0 C339.2,378.1 335.5,375.6 332.5,372.5 C329.5,369.4 326.2,365.0 324.0,361.2 C321.8,357.5 320.7,353.5 319.4,350.0 C318.1,346.5 316.7,343.8 316.0,340.0 C315.3,336.2 314.5,331.0 315.0,327.5 C315.5,324.0 316.9,320.6 318.8,318.8 C320.6,316.9 323.5,315.6 326.2,316.2 C329.0,316.9 333.0,319.4 335.0,322.5 C337.0,325.6 337.7,331.1 338.5,335.0 C339.3,338.9 339.8,342.2 340.0,346.0 C340.2,349.8 339.6,353.5 340.0,357.5 C340.4,361.5 341.5,366.2 342.5,370.0 C343.5,373.8 345.3,378.0 346.2,380.0 C347.2,382.0 347.7,381.7 348.0,382.0"/>
<path d="M326.0,317.0 C326.8,319.7 329.1,327.5 331.0,333.0 C332.9,338.5 335.7,344.7 337.2,350.0 C338.7,355.3 338.8,360.3 340.0,365.0 C341.2,369.7 343.3,374.9 344.7,378.0 C346.1,381.1 347.8,382.8 348.4,383.8"/>
<path d="M391.2,510.0 L392.5,468.8 L432.5,466.2"/>
<path d="M405.0,515.0 L437.5,513.8"/>
<path d="M132.5,444.5 C131.5,447.5 128.3,455.3 126.2,462.5 C124.2,469.7 121.7,479.2 120.0,487.5 C118.3,495.8 117.1,504.2 116.2,512.5 C115.4,520.8 115.0,529.2 115.0,537.5 C115.0,545.8 115.4,554.2 116.2,562.5 C117.1,570.8 119.0,581.2 120.0,587.5 C121.0,593.8 121.7,597.1 122.5,600.0 C123.3,602.9 124.6,604.2 125.0,605.0"/>
<path d="M133.8,448.8 C132.9,452.3 130.2,462.3 128.8,470.0 C127.3,477.7 125.8,486.7 125.0,495.0 C124.2,503.3 124.0,511.7 123.8,520.0 C123.5,528.3 123.5,536.7 123.8,545.0 C124.0,553.3 124.4,562.1 125.0,570.0 C125.6,577.9 127.1,589.2 127.5,592.5 C127.9,595.8 127.1,588.5 127.5,590.0 C127.9,591.5 128.5,599.0 130.0,601.2 C131.5,603.5 133.5,603.5 136.2,603.8 C139.0,604.0 144.0,604.8 146.2,602.5 C148.5,600.2 149.4,592.1 150.0,590.0"/>
<path d="M149.0,602.8 C148.9,601.1 148.8,598.3 148.4,592.5 C148.0,586.7 147.1,576.8 146.6,568.0 C146.1,559.2 145.9,546.8 145.6,540.0 C145.3,533.2 145.1,532.7 145.0,527.5 C144.9,522.3 144.9,515.0 145.2,508.8 C145.6,502.5 146.2,496.2 146.9,490.0 C147.6,483.8 148.6,476.2 149.4,471.2 C150.2,466.2 150.8,462.8 151.9,460.0 C153.0,457.2 154.1,455.9 156.2,454.4 C158.4,452.9 161.0,452.0 165.0,451.2 C169.0,450.5 171.7,450.2 180.0,449.8 C188.3,449.3 207.7,448.5 215.0,448.8 C222.3,449.0 221.6,449.4 223.8,451.2 C225.9,453.1 227.2,454.0 228.0,460.0 C228.8,466.0 228.6,476.7 228.8,487.5 C228.9,498.3 228.6,512.5 228.8,525.0 C228.9,537.5 229.1,550.0 229.5,562.5 C229.9,575.0 231.2,594.2 231.2,600.0 C231.3,605.8 229.0,597.1 230.0,597.5 C231.0,597.9 234.2,601.2 237.5,602.5 C240.8,603.8 247.9,604.6 250.0,605.0 C252.1,605.4 248.3,605.4 250.0,605.0 C251.7,604.6 257.3,604.2 260.0,602.5 C262.7,600.8 265.0,597.1 266.2,595.0 C267.5,592.9 267.3,590.8 267.5,590.0"/>
<path d="M169.0,599.0 C168.1,598.2 165.0,599.6 163.4,594.4 C161.8,589.2 160.8,577.1 159.7,568.0 C158.6,558.9 157.5,547.8 156.9,540.0 C156.3,532.2 156.2,527.5 156.0,521.2 C155.8,515.0 155.8,508.8 156.0,502.5 C156.2,496.2 156.4,489.6 156.9,483.8 C157.4,477.9 158.0,472.1 158.8,467.5 C159.5,462.9 159.8,458.4 161.2,456.2 C162.7,454.1 164.4,455.3 167.5,454.8 C170.6,454.2 172.1,453.6 180.0,453.1 C187.9,452.6 207.8,451.8 215.0,451.8 C222.2,451.7 221.7,452.8 223.0,453.0"/>
<path d="M161.2,456.2 C162.1,458.1 164.8,463.5 166.2,467.5 C167.7,471.5 169.1,475.8 170.0,480.0 C170.9,484.2 171.3,486.7 171.5,492.5 C171.7,498.3 171.5,507.1 171.2,515.0 C171.0,522.9 170.6,531.2 170.2,540.0 C169.9,548.8 169.4,560.2 169.0,568.0 C168.6,575.8 168.1,581.8 168.1,587.0 C168.1,592.2 168.8,597.0 169.0,599.0"/>
<path d="M161.5,598.0 L159.7,603.8"/>
<path d="M223.0,453.0 C221.7,454.4 217.1,457.2 215.0,461.2 C212.9,465.3 211.5,471.0 210.5,477.5 C209.5,484.0 209.2,492.1 208.8,500.0 C208.2,507.9 208.0,516.7 207.5,525.0 C207.0,533.3 206.3,541.7 205.5,550.0 C204.7,558.3 203.2,567.1 202.5,575.0 C201.8,582.9 201.5,593.8 201.2,597.5"/>
<path d="M223.0,453.0 C222.9,457.5 222.8,470.1 222.5,480.0 C222.2,489.9 221.9,501.7 221.5,512.5 C221.1,523.3 220.3,537.9 220.0,545.0 C219.7,552.1 220.0,550.0 219.5,555.0 C219.0,560.0 218.6,569.0 217.0,575.0 C215.4,581.0 212.3,587.3 210.0,591.2 C207.7,595.2 204.2,597.5 203.0,598.8"/>
<path d="M219.5,555.0 C220.0,558.3 221.2,568.8 222.5,575.0 C223.8,581.2 226.2,588.3 227.5,592.5 C228.8,596.7 229.6,598.8 230.0,600.0"/>
<path d="M267.2,598.0 C267.4,594.6 268.3,587.2 268.1,577.5 C267.9,567.8 267.0,552.9 266.2,540.0 C265.5,527.1 264.2,514.0 263.8,500.0 C263.3,486.0 263.3,464.6 263.8,456.2 C264.2,447.9 264.8,451.5 266.2,450.0 C267.7,448.5 266.5,448.1 272.5,447.5 C278.5,446.9 292.9,446.3 302.5,446.2 C312.1,446.2 324.5,446.7 330.0,447.0 C335.5,447.3 334.0,447.3 335.6,448.0 C337.2,448.7 338.7,449.3 339.8,451.0 C340.9,452.7 341.4,454.5 342.0,458.0 C342.6,461.5 342.9,467.3 343.4,472.0 C343.9,476.7 344.3,481.1 344.8,486.2 C345.3,491.4 345.7,495.5 346.2,503.0 C346.7,510.5 347.2,522.8 347.6,531.0 C348.0,539.2 348.3,545.7 348.6,552.2 C348.9,558.7 349.5,563.6 349.5,570.0 C349.5,576.4 349.2,586.1 348.8,590.6 C348.3,595.1 347.2,596.1 346.9,597.2"/>
<path d="M268.0,451.2 C269.2,452.3 272.4,454.4 275.0,457.5 C277.6,460.6 281.5,465.4 283.8,470.0 C286.0,474.6 287.5,477.9 288.8,485.0 C290.0,492.1 290.6,502.5 291.2,512.5 C291.9,522.5 292.2,534.6 292.5,545.0 C292.8,555.4 292.8,566.2 293.0,575.0 C293.2,583.8 293.6,593.8 293.8,597.5"/>
<path d="M268.0,451.2 C268.3,456.5 269.0,471.0 270.0,482.5 C271.0,494.0 272.7,508.8 273.8,520.0 C274.8,531.2 275.6,543.3 276.2,550.0 C276.9,556.7 277.1,555.0 277.5,560.0 C277.9,565.0 277.7,574.2 278.8,580.0 C279.8,585.8 281.4,591.9 283.8,595.0 C286.1,598.1 291.5,598.1 293.0,598.8"/>
<path d="M277.5,505.0 C277.2,507.5 276.6,514.2 276.0,520.0 C275.4,525.8 274.4,532.9 273.8,540.0 C273.1,547.1 272.7,554.7 271.9,562.5 C271.1,570.3 269.7,581.1 269.0,587.0 C268.3,592.9 268.0,596.2 267.8,598.0"/>
<path d="M335.0,448.8 C334.2,450.2 331.2,453.1 330.0,457.5 C328.8,461.9 328.2,467.9 328.0,475.0 C327.8,482.1 328.6,491.7 328.8,500.0 C328.9,508.3 329.2,515.8 328.8,525.0 C328.3,534.2 327.3,545.8 326.2,555.0 C325.2,564.2 323.8,572.9 322.5,580.0 C321.2,587.1 319.4,594.6 318.8,597.5"/>
<path d="M335.0,448.8 C335.4,453.1 336.8,464.4 337.5,475.0 C338.2,485.6 339.3,504.2 339.5,512.5 C339.7,520.8 338.8,520.4 338.5,525.0 C338.2,529.6 338.0,534.4 337.5,540.0 C337.0,545.6 336.5,551.9 335.6,558.8 C334.7,565.6 333.5,575.5 331.9,581.2 C330.3,587.0 328.4,590.4 326.2,593.4 C324.1,596.4 320.0,598.1 318.8,599.0"/>
<path d="M128.8,602.5 C127.9,605.4 125.6,613.8 123.8,620.0 C121.9,626.2 119.2,633.3 117.5,640.0 C115.8,646.7 114.6,652.5 113.8,660.0 C112.9,667.5 112.5,676.7 112.5,685.0 C112.5,693.3 112.9,701.7 113.8,710.0 C114.6,718.3 115.8,727.5 117.5,735.0 C119.2,742.5 121.5,750.0 123.8,755.0 C126.0,760.0 128.5,762.3 131.2,765.0 C134.0,767.7 136.0,769.5 140.0,771.2 C144.0,773.0 148.8,774.4 155.0,775.5 C161.2,776.6 169.6,777.5 177.5,778.0 C185.4,778.5 193.8,778.7 202.5,778.8 C211.2,778.8 219.6,778.6 230.0,778.5 C240.4,778.4 255.0,778.2 265.0,778.0 C275.0,777.8 281.7,777.7 290.0,777.2 C298.3,776.8 306.7,776.4 315.0,775.5 C323.3,774.6 332.5,773.3 340.0,772.0 C347.5,770.7 354.0,769.1 360.0,767.5 C366.0,765.9 373.5,763.3 376.2,762.5"/>
<path d="M131.2,603.8 C130.5,606.5 128.7,614.0 127.0,620.0 C125.3,626.0 122.8,633.3 121.2,640.0 C119.8,646.7 118.7,652.5 118.0,660.0 C117.3,667.5 117.0,676.7 117.0,685.0 C117.0,693.3 117.3,701.7 118.0,710.0 C118.7,718.3 119.7,727.5 121.2,735.0 C122.8,742.5 125.4,749.8 127.5,755.0 C129.6,760.2 132.7,764.4 133.8,766.2"/>
<path d="M145.5,607.5 C145.2,610.8 143.6,620.8 143.8,627.5 C143.9,634.2 144.4,640.0 146.2,647.5 C148.1,655.0 150.6,665.4 155.0,672.5 C159.4,679.6 165.4,685.8 172.5,690.0 C179.6,694.2 188.8,695.9 197.5,697.5 C206.2,699.1 216.7,699.2 225.0,699.5 C233.3,699.8 240.8,699.6 247.5,699.5 C254.2,699.4 257.9,699.3 265.0,698.8 C272.1,698.2 281.7,697.5 290.0,696.2 C298.3,695.0 307.5,693.3 315.0,691.2 C322.5,689.2 329.2,686.9 335.0,683.8 C340.8,680.6 346.0,676.9 350.0,672.5 C354.0,668.1 356.9,662.9 358.8,657.5 C360.6,652.1 361.0,645.0 361.2,640.0 C361.5,635.0 360.8,632.9 360.0,627.5 C359.2,622.1 356.9,610.8 356.2,607.5"/>
<path d="M144.5,630.0 C145.2,632.1 146.6,638.8 148.8,642.5 C150.9,646.2 153.5,649.6 157.5,652.5 C161.5,655.4 165.8,658.0 172.5,660.0 C179.2,662.0 188.8,663.5 197.5,664.5 C206.2,665.5 216.7,665.5 225.0,665.8 C233.3,666.0 240.8,665.7 247.5,665.8 C254.2,665.8 257.9,666.1 265.0,666.0 C272.1,665.9 281.7,665.8 290.0,665.0 C298.3,664.2 306.7,662.8 315.0,661.2 C323.3,659.7 333.5,658.0 340.0,655.5 C346.5,653.0 350.5,650.1 353.8,646.2 C357.0,642.4 358.5,634.8 359.5,632.5"/>
<path d="M162.5,598.8 C162.0,600.6 159.9,606.0 159.5,610.0 C159.1,614.0 159.3,618.8 160.0,622.5 C160.7,626.2 161.7,629.4 163.8,632.5 C165.8,635.6 168.1,639.1 172.5,641.2 C176.9,643.4 184.6,645.0 190.0,645.5 C195.4,646.0 200.4,645.6 205.0,644.5 C209.6,643.4 214.2,641.6 217.5,638.8 C220.8,635.9 223.1,631.9 225.0,627.5 C226.9,623.1 227.9,617.5 228.8,612.5 C229.6,607.5 229.8,600.0 230.0,597.5"/>
<path d="M163.8,632.5 C164.4,631.5 165.2,627.7 167.5,626.2 C169.8,624.8 171.7,624.2 177.5,623.8 C183.3,623.3 196.2,623.5 202.5,623.8 C208.8,624.0 211.9,624.2 215.0,625.0 C218.1,625.8 220.6,626.7 221.2,628.8 C221.9,630.8 219.2,636.0 218.8,637.5"/>
<path d="M162.5,606.2 C163.3,607.7 166.5,611.9 167.5,615.0 C168.5,618.1 168.5,623.3 168.8,625.0"/>
<path d="M226.2,605.0 C225.6,607.5 223.5,616.2 222.5,620.0 C221.5,623.8 220.4,626.2 220.0,627.5"/>
<path d="M267.5,590.0 C267.7,592.5 267.9,600.0 268.8,605.0 C269.6,610.0 270.8,615.4 272.5,620.0 C274.2,624.6 275.8,629.2 278.8,632.5 C281.7,635.8 285.2,638.2 290.0,640.0 C294.8,641.8 302.1,642.8 307.5,643.0 C312.9,643.2 318.1,642.5 322.5,641.2 C326.9,640.0 330.9,638.2 333.8,635.5 C336.6,632.8 338.4,629.2 339.5,625.0 C340.6,620.8 340.2,615.8 340.2,610.0 C340.2,604.2 339.6,593.3 339.5,590.0"/>
<path d="M277.5,631.2 C278.1,630.2 278.8,626.7 281.2,625.0 C283.8,623.3 286.9,622.0 292.5,621.2 C298.1,620.5 308.8,620.4 315.0,620.5 C321.2,620.6 326.5,621.0 330.0,622.0 C333.5,623.0 335.4,624.1 336.2,626.2 C337.1,628.4 335.2,633.5 335.0,635.0"/>
<path d="M277.0,590.0 C277.1,593.3 277.0,604.2 277.5,610.0 C278.0,615.8 279.6,622.5 280.0,625.0"/>
<path d="M333.8,590.0 C333.6,593.3 332.9,604.4 333.0,610.0 C333.1,615.6 334.2,621.5 334.5,623.8"/>
<path d="M73.4,598.3 C77.3,598.4 89.2,599.0 96.9,599.0 C104.6,599.0 115.7,598.2 119.5,598.0"/>
<path d="M119.5,598.0 C119.9,599.0 122.2,601.8 121.9,603.8 C121.7,605.8 118.2,608.0 118.0,610.0 C117.8,612.0 120.5,614.6 121.0,615.5"/>
<path d="M100.8,616.2 L100.8,634.2 L118.8,634.2"/>
<path d="M361.6,398.4 C361.8,401.3 362.2,410.3 362.5,415.6 C362.8,420.9 363.4,426.9 363.6,430.0 C363.8,433.1 364.7,432.8 363.5,434.0 C362.3,435.2 357.3,436.0 356.4,437.3 C355.5,438.6 357.8,441.2 358.1,442.0"/>
<path d="M369.4,400.6 C369.7,402.2 370.3,406.8 371.2,410.0 C372.2,413.2 374.0,417.9 375.0,420.0 C376.0,422.1 376.8,422.9 377.5,422.5 C378.2,422.1 379.0,420.4 379.4,417.5 C379.8,414.6 379.9,407.9 379.8,405.0 C379.6,402.1 378.9,400.8 378.8,400.0"/>
<path d="M358.1,442.0 C358.8,443.5 360.8,447.1 362.3,451.0 C363.8,454.9 365.7,460.0 367.3,465.2 C368.9,470.4 370.8,476.6 372.2,482.0 C373.6,487.4 374.8,492.1 375.7,497.5 C376.6,502.9 377.2,508.8 377.8,514.4 C378.4,520.0 378.9,524.7 379.2,531.0 C379.5,537.3 379.9,545.2 379.9,552.2 C379.9,559.2 379.7,567.2 379.2,573.3 C378.7,579.4 378.0,584.8 377.1,588.8 C376.2,592.7 374.7,595.1 373.6,597.2 C372.6,599.3 371.0,600.3 370.8,601.4 C370.6,602.5 371.4,601.7 372.5,604.0 C373.6,606.3 375.4,609.0 377.5,615.0 C379.6,621.0 382.9,631.7 385.0,640.0 C387.1,648.3 388.8,656.7 390.0,665.0 C391.2,673.3 392.2,681.7 392.5,690.0 C392.8,698.3 392.6,706.7 392.0,715.0 C391.4,723.3 390.3,733.3 388.8,740.0 C387.2,746.7 384.6,751.2 382.5,755.0 C380.4,758.8 377.3,761.2 376.2,762.5"/>
<path d="M358.8,443.4 C359.3,445.4 360.7,451.0 361.6,455.3 C362.6,459.6 363.6,464.2 364.5,469.4 C365.4,474.6 366.1,480.6 366.8,486.2 C367.5,491.9 368.2,497.1 368.7,503.0 C369.2,508.9 369.6,516.7 370.0,521.4 C370.4,526.1 370.4,525.9 370.8,531.0 C371.2,536.1 371.9,545.2 372.2,552.2 C372.5,559.2 372.9,567.2 372.9,573.3 C372.9,579.4 372.7,584.8 372.2,588.8 C371.7,592.7 370.9,595.3 370.0,597.2 C369.1,599.1 368.6,599.5 366.6,600.0 C364.6,600.5 360.9,600.1 358.1,600.0 C355.3,599.9 352.3,600.0 349.7,599.3 C347.1,598.6 345.0,597.6 342.7,595.8 C340.4,594.0 337.4,591.3 335.6,588.8 C333.8,586.2 332.4,581.7 331.7,580.3"/>
<path d="M367.5,600.0 C368.5,602.5 371.6,608.3 373.8,615.0 C375.9,621.7 378.5,631.7 380.5,640.0 C382.5,648.3 384.1,656.7 385.5,665.0 C386.9,673.3 388.1,681.7 388.8,690.0 C389.4,698.3 389.7,706.7 389.2,715.0 C388.8,723.3 387.8,733.3 386.2,740.0 C384.7,746.7 381.7,751.2 380.0,755.0 C378.3,758.8 376.9,761.2 376.2,762.5"/>
<path d="M379.0,597.0 C382.7,597.1 393.8,597.6 401.2,597.5 C408.7,597.4 420.0,596.7 423.8,596.5"/>
<path d="M394.7,614.0 L394.7,630.3 L385.0,630.3"/>
<path d="M345.0,355.0 C345.2,357.3 345.8,364.4 346.2,368.8 C346.8,373.1 347.0,377.5 348.0,381.2 C349.0,385.0 350.7,388.6 352.5,391.2 C354.3,393.9 356.7,395.6 358.8,397.0 C360.8,398.4 363.1,398.9 365.0,399.4 C366.9,399.9 367.7,399.9 370.0,400.0 C372.3,400.1 377.3,400.0 378.8,400.0"/>
<path d="M355.9,256 Q356.5,250.8 364.4,249.4 L441.25,234.4 Q454,232 455,240 L451.5,275 Q450.5,289.5 441.25,291.6 L362,307.2 Q349.5,309.5 350.3,300 Z"/>
<path d="M355.9,303.75 Q353,302.5 353.5,298 L358.75,257 Q359.2,253 366.25,252.2 L433.75,238.5"/>
</svg>
<!--LABELS-->
<div class="lb" style="left:379px;top:31.5px;width:147px;height:38.5px;"></div>
<div class="lb" style="left:386.1px;top:91.75px;width:155.3px;height:39.15px;"></div>
<div class="lb" style="left:403.9px;top:159px;width:124.85px;height:39.4px;"></div>
<div class="lb" style="left:428px;top:236.25px;width:156.7px;height:37.5px;"></div>
<div class="lb" style="left:428.4px;top:298.9px;width:163.7px;height:38.1px;"></div>
<div class="lb" style="left:436.6px;top:391.25px;width:155.3px;height:37.5px;"></div>
<div class="lb" style="left:428.9px;top:461px;width:140.1px;height:37.4px;"></div>
<div class="lb" style="left:442.4px;top:526px;width:127px;height:37px;"></div>
<div class="lb" style="left:442.7px;top:581.6px;width:133.3px;height:36.9px;"></div>
<div class="lb" style="left:417.5px;top:631px;width:158.9px;height:37px;"></div>
<div class="t" id="l1" style="left:452.7px;top:35.88px;font-size:11.9px;">Массажная накладка с</div>
<div class="t" id="l2" style="left:452.7px;top:49.88px;font-size:11.9px;">подогревом головы</div>
<div class="t" id="l3" style="left:467.6px;top:95.89px;font-size:11.85px;">Компрессионная</div>
<div class="t" id="l4" style="left:467.6px;top:109.89px;font-size:11.85px;">подушка плеч</div>
<div class="t" id="l5" style="left:467.4px;top:162.89px;font-size:11.85px;">Компрессионная</div>
<div class="t" id="l6" style="left:467.4px;top:176.89px;font-size:11.85px;">подушка пояса</div>
<div class="t" id="l7" style="left:505.65px;top:237.89px;font-size:11.85px;">Компрессионная</div>
<div class="t" id="l8" style="left:505.65px;top:251.89px;font-size:11.85px;">подушка рук</div>
<div class="t" id="l9" style="left:514.6px;top:298.11px;font-size:10.35px;">Боковые</div>
<div class="t" id="l10" style="left:514.6px;top:310.11px;font-size:10.35px;">компрессионные</div>
<div class="t" id="l11" style="left:514.6px;top:322.11px;font-size:10.35px;">подушки</div>
<div class="t" id="l12" style="left:511.25px;top:388.35px;font-size:10.54px;">Боковые</div>
<div class="t" id="l13" style="left:511.25px;top:400.35px;font-size:10.54px;">компрессионные</div>
<div class="t" id="l14" style="left:511.25px;top:412.35px;font-size:10.54px;">подушки</div>
<div class="t" id="l15" style="left:498.55px;top:460.61px;font-size:9.78px;">Икроножная</div>
<div class="t" id="l16" style="left:498.55px;top:472.11px;font-size:9.78px;">компрессионная</div>
<div class="t" id="l17" style="left:498.55px;top:483.61px;font-size:9.78px;">подушка</div>
<div class="t" id="l18" style="left:505.7px;top:529.89px;font-size:11.85px;">Компрессионные</div>
<div class="t" id="l19" style="left:505.7px;top:543.89px;font-size:11.85px;">подушки стоп</div>
<div class="t" id="l20" style="left:511.5px;top:589.89px;font-size:11.85px;">Подогрев стоп</div>
<div class="t" id="l21" style="left:497.55px;top:639.89px;font-size:11.85px;">Ролики для ног</div>
</body></html>
